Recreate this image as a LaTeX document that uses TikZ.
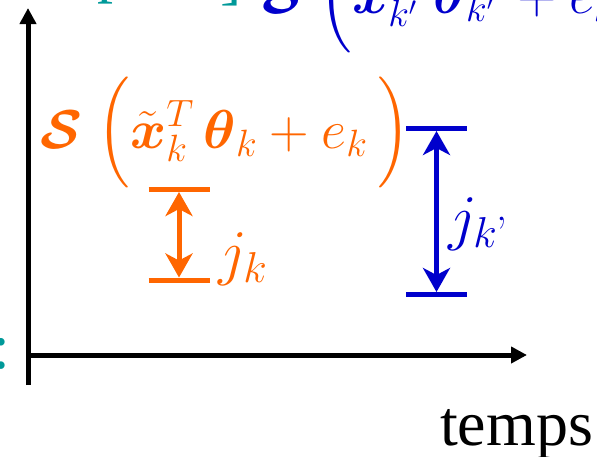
\documentclass[tikz,border=0pt]{standalone}
\usepackage{amsmath,amssymb}
\usepackage{fontspec}
\newfontfamily\timesfont{Liberation Serif}
\usepackage{xcolor}
\definecolor{delayorange}{RGB}{255,102,0}
\definecolor{delayblue}{RGB}{0,0,204}
\definecolor{labelteal}{RGB}{0,153,153}
\usetikzlibrary{arrows.meta}
\newcommand{\tallopen}{\scalebox{1}[1.12]{$\Big($}}
\newcommand{\tallclose}{\scalebox{1}[1.12]{$\Big)$}}

\begin{document}
\begin{tikzpicture}[x=1pt, y=-1pt,
    axis/.style={line width=5pt, -{Triangle[length=16pt, width=16pt]}},
    bar/.style={line width=5pt},
    gap/.style={line width=5pt,
                {Stealth[length=24pt, width=27pt, inset=7pt]}-{Stealth[length=24pt, width=27pt, inset=7pt]},
                shorten <=2.5pt, shorten >=2.5pt},
    formula/.style={inner sep=0pt, anchor=base west, font=\fontsize{25}{30}\selectfont},
    serif/.style={inner sep=0pt, anchor=base west, font=\timesfont\fontsize{64}{76}\selectfont}
]
\useasboundingbox (0,0) rectangle (597,456);
\clip (0,0) rectangle (597,456);

\coordinate (ybot)   at (28,385);
\coordinate (ytip)   at (28,8);
\coordinate (origin) at (28,355);
\coordinate (xtip)   at (527,355);
\draw[axis] (ybot) -- (ytip);
\draw[axis] (origin) -- (xtip);

\node[serif] (temps) at (440,445) {temps};
\node[serif, text=labelteal] (colon) at (-8,368) {:};
\node[serif, text=labelteal] (tealp) at (97,-10) {p};
\node[serif, text=labelteal] (tealbr) at (220,-3) {]};

\node[formula, text=delayblue] (sblue) at (262,13)
    {\scalebox{2.2}{$\boldsymbol{\mathcal{S}}\;\tallopen\tilde{\boldsymbol{x}}_{k'}^T\;\boldsymbol{\theta}_{k'}\,+e_{k'}\,\tallclose$}};
\node[formula, text=delayorange] (sorange) at (40,148)
    {\scalebox{2.2}{$\boldsymbol{\mathcal{S}}\;\tallopen\tilde{\boldsymbol{x}}_k^T\,\boldsymbol{\theta}_k+e_k\,\tallclose$}};

\coordinate (ktop) at (179,189.5);
\coordinate (kbot) at (179,280);
\draw[bar, delayorange] (ktop) ++(-30.5,0) -- ++(61,0);
\draw[bar, delayorange] (kbot) ++(-30.5,0) -- ++(61,0);
\draw[gap, delayorange] (ktop) -- (kbot);
\node[formula, text=delayorange] (jk) at (218,273) {\scalebox{2.5}{$j_k$}};

\coordinate (kptop) at (436.5,128.5);
\coordinate (kpbot) at (436.5,294.5);
\draw[bar, delayblue] (kptop) ++(-30.5,0) -- ++(61,0);
\draw[bar, delayblue] (kpbot) ++(-30.5,0) -- ++(61,0);
\draw[gap, delayblue] (kptop) -- (kpbot);
\node[formula, text=delayblue] (jkp) at (448,238) {\scalebox{2.5}{$j_{k\textrm{'}}$}};
\end{tikzpicture}
\end{document}
